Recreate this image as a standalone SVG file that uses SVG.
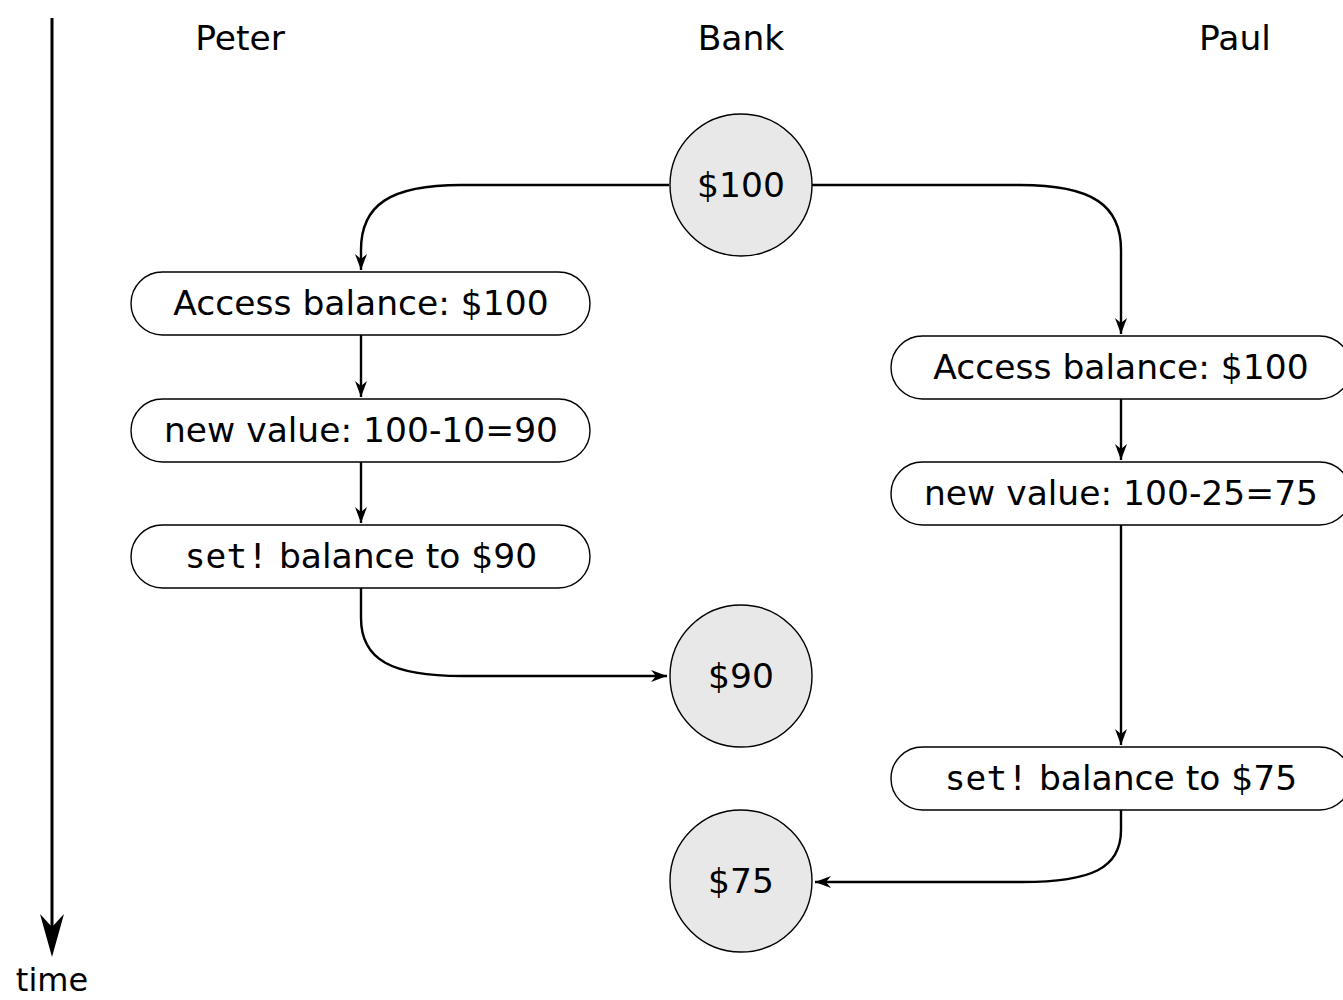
<svg xmlns="http://www.w3.org/2000/svg" width="1343" height="1000" viewBox="0 0 1343 1000">
<style>
.t{font-family:"DejaVu Sans",sans-serif;font-size:34.5px;fill:#000;text-anchor:middle}
.m{font-family:"DejaVu Sans Mono",monospace}
.box{fill:#fff;stroke:#000;stroke-width:1.4}
.bank{fill:#e8e8e8;stroke:#000;stroke-width:1.4}
.c{fill:none;stroke:#000;stroke-width:2.4}
</style>
<defs>
<marker id="ah" markerUnits="userSpaceOnUse" markerWidth="20" markerHeight="14" viewBox="-16 -7 18 14" refX="0" refY="0" orient="auto">
<path d="M0,0 L-16,-6 L-11,0 L-16,6 Z" fill="#000"/>
</marker>
</defs>
<g id="time-axis">
<line x1="52" y1="18" x2="52" y2="930" stroke="#000" stroke-width="3"/>
<path d="M52,957 L40,914 L52,927 L64,914 Z" fill="#000"/>
<text class="t" x="52" y="991" style="font-size:32px">time</text>
</g>
<g id="headers">
<text class="t" x="240" y="50">Peter</text>
<text class="t" x="741" y="50">Bank</text>
<text class="t" x="1235" y="50">Paul</text>
</g>
<g id="connectors">
<path class="c" marker-end="url(#ah)" d="M669,185 L461,185 C390,185 361,205 361,250 L361,270"/>
<path class="c" marker-end="url(#ah)" d="M812,185 L1020,185 C1092,185 1121,205 1121,250 L1121,334"/>
<path class="c" marker-end="url(#ah)" d="M361,335 L361,397"/>
<path class="c" marker-end="url(#ah)" d="M361,462 L361,523"/>
<path class="c" marker-end="url(#ah)" d="M1121,399 L1121,460"/>
<path class="c" marker-end="url(#ah)" d="M1121,525 L1121,745"/>
<path class="c" marker-end="url(#ah)" d="M361,588 L361,618 C361,660 392,676 462,676 L667,676"/>
<path class="c" marker-end="url(#ah)" d="M1121,810 L1121,830 C1121,868 1092,882 1022,882 L815,882"/>
</g>
<g id="bank100">
<circle class="bank" cx="741" cy="185" r="71"/>
<text class="t" x="741" y="197">$100</text>
</g>
<g id="peter-access">
<rect class="box" x="131" y="272" width="459" height="63" rx="31.5"/>
<text class="t" x="361" y="315">Access balance: $100</text>
</g>
<g id="peter-new">
<rect class="box" x="131" y="399" width="459" height="63" rx="31.5"/>
<text class="t" x="361" y="442">new value: 100-10=90</text>
</g>
<g id="peter-set">
<rect class="box" x="131" y="525" width="459" height="63" rx="31.5"/>
<text class="t" x="361" y="568"><tspan class="m">set!</tspan> balance to $90</text>
</g>
<g id="paul-access">
<rect class="box" x="891" y="336" width="460" height="63" rx="31.5"/>
<text class="t" x="1121" y="379">Access balance: $100</text>
</g>
<g id="paul-new">
<rect class="box" x="891" y="462" width="460" height="63" rx="31.5"/>
<text class="t" x="1121" y="505">new value: 100-25=75</text>
</g>
<g id="paul-set">
<rect class="box" x="891" y="747" width="460" height="63" rx="31.5"/>
<text class="t" x="1121" y="790"><tspan class="m">set!</tspan> balance to $75</text>
</g>
<g id="bank90">
<circle class="bank" cx="741" cy="676" r="71"/>
<text class="t" x="741" y="688">$90</text>
</g>
<g id="bank75">
<circle class="bank" cx="741" cy="881" r="71"/>
<text class="t" x="741" y="893">$75</text>
</g>
</svg>
